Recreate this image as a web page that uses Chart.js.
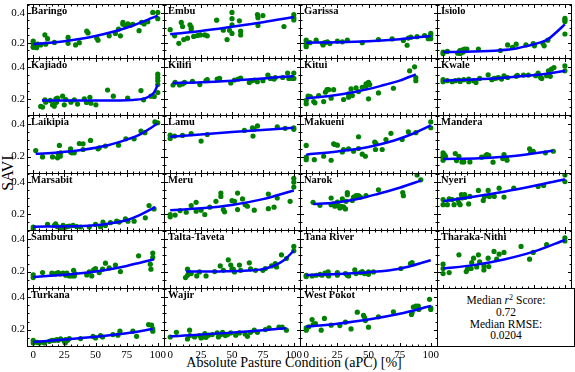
<!DOCTYPE html>
<html>
<head>
<meta charset="utf-8">
<script src="https://cdn.jsdelivr.net/npm/chart.js@4.4.0/dist/chart.umd.min.js"></script>
<style>
html, body { margin: 0; padding: 0; background: #fff; }
#fig { position: relative; width: 575px; height: 372px; overflow: hidden; font-family: "Liberation Serif", serif; color: #000; }
#fig canvas { position: absolute; left: 0; top: 0; }
#ylabel { position: absolute; left: 8px; top: 173px; transform: translate(-50%, -50%) rotate(-90deg); font-size: 16px; white-space: nowrap; }
#xlabel { position: absolute; left: 0; width: 588px; top: 354px; line-height: 18px; text-align: center; font-size: 14px; white-space: nowrap; }
#scores { position: absolute; left: 437px; top: 288px; width: 138px; height: 59px; box-sizing: border-box; border: 1px solid #000; padding-top: 6px; text-align: center; font-size: 11.5px; line-height: 11.8px; }
#scores sup { font-size: 70%; line-height: 0; vertical-align: 4px; }
</style>
</head>
<body>
<div id="fig">
  <div id="ylabel">SAVI</div>
  <div id="xlabel">Absolute Pasture Condition (aPC) [%]</div>
  <div id="scores"></div>
</div>
<script>
// axis ticks
const xTicks = [0, 25, 50, 75, 100];
const yTicks = [0.2, 0.4];
const yTickLabels = ['0.2', '0.4'];
const medianR2 = '0.72';
const medianRMSE = '0.0204';

// scatter points [aPC, SAVI] and fitted curve per county
const baringoPoints = [[0,0.21],[0,0.194],[0,0.173],[0,0.169],[2.7,0.167],[3.5,0.19],[6,0.185],[9.4,0.252],[10,0.19],[11.5,0.227],[17,0.202],[28,0.235],[28,0.196],[34,0.185],[37,0.2],[43,0.277],[44,0.265],[51,0.231],[52,0.217],[61,0.246],[66,0.262],[68.5,0.29],[70,0.246],[72,0.335],[72,0.323],[74,0.315],[76,0.325],[78,0.315],[80,0.323],[85,0.28],[87,0.335],[89,0.325],[92,0.34],[96,0.402],[100,0.402],[100,0.36]];
const baringoFit = [[0,0.19],[25,0.21],[50,0.245],[75,0.3],[100,0.38]];

const embuPoints = [[0,0.287],[3.6,0.246],[7,0.196],[9,0.335],[10,0.308],[11,0.221],[14,0.23],[16,0.319],[17,0.304],[17,0.29],[19,0.242],[22,0.248],[24.5,0.252],[28,0.252],[30,0.246],[37.6,0.35],[43,0.283],[46,0.221],[48,0.283],[50,0.402],[50,0.36],[50,0.319],[50,0.262],[56,0.346],[57,0.277],[57,0.252],[70.6,0.388],[71,0.367],[71,0.315],[75,0.381],[92,0.308],[100,0.388],[100,0.367],[100,0.352]];
const embuFit = [[0,0.256],[25,0.278],[50,0.306],[75,0.336],[100,0.371]];

const garissaPoints = [[0,0.217],[0,0.2],[0,0.185],[0,0.173],[3,0.2],[8,0.217],[13,0.196],[13.5,0.185],[15,0.2],[17,0.206],[19,0.194],[25,0.21],[29,0.206],[33,0.217],[45,0.2],[58,0.221],[69,0.225],[78,0.215],[81,0.183],[82,0.231],[84,0.237],[89,0.24],[95,0.248],[98,0.227],[100,0.262],[100,0.248],[100,0.227]];
const garissaFit = [[0,0.2],[25,0.203],[50,0.21],[75,0.223],[100,0.245]];

const isioloPoints = [[0,0.138],[0,0.127],[3.5,0.142],[12,0.13],[13.7,0.148],[14,0.128],[15,0.133],[16,0.152],[16.5,0.138],[17.7,0.158],[19.5,0.158],[29,0.158],[47,0.148],[53,0.185],[57,0.169],[60,0.19],[68,0.185],[74,0.194],[75,0.179],[82,0.194],[83,0.179],[86,0.217],[100,0.362],[100,0.352],[100,0.342],[100,0.258]];
const isioloFit = [[0,0.138],[25,0.141],[47,0.15],[60,0.162],[70,0.18],[80,0.202],[86,0.222],[93,0.27],[100,0.322]];

const kajiadoPoints = [[6,0.152],[7.5,0.148],[9.4,0.194],[10,0.179],[13.7,0.19],[15.5,0.1625],[16.9,0.154],[17.7,0.175],[18.2,0.2],[18.7,0.179],[19.5,0.204],[23.6,0.217],[24.9,0.1625],[26.2,0.196],[30.3,0.179],[33,0.194],[35.6,0.167],[41,0.2],[42.8,0.177],[45.5,0.21],[46.3,0.173],[50.3,0.1625],[59.7,0.256],[64.3,0.217],[75.8,0.204],[86.5,0.252],[88.6,0.194],[94.5,0.217],[97.2,0.215],[100,0.356],[100,0.335],[100,0.315],[100,0.29],[100,0.24]];
const kajiadoFit = [[7,0.19],[40,0.19],[70,0.19],[80,0.193],[88,0.2],[93,0.215],[97,0.24],[100,0.29]];

const kilifiPoints = [[2.3,0.2875],[4,0.304],[7.6,0.2875],[10,0.294],[11.6,0.304],[18,0.31],[24,0.29],[29,0.315],[30,0.321],[38,0.325],[40,0.329],[49,0.3],[52,0.319],[55,0.325],[57,0.331],[64,0.304],[66,0.315],[68,0.319],[70.5,0.308],[75,0.315],[79,0.35],[81,0.329],[84,0.325],[85,0.335],[91,0.335],[95,0.3625],[96,0.329],[98.7,0.329],[100,0.3625],[100,0.329]];
const kilifiFit = [[2,0.3],[25,0.305],[50,0.315],[75,0.328],[100,0.345]];

const kituiPoints = [[0,0.19],[0,0.169],[1.5,0.217],[3.3,0.215],[6,0.183],[7,0.175],[10,0.221],[14,0.183],[15.4,0.242],[16.7,0.258],[18,0.258],[20,0.204],[22,0.258],[30,0.196],[34,0.231],[34,0.21],[36,0.2625],[37,0.221],[40,0.269],[42,0.246],[45,0.273],[48,0.294],[48,0.279],[50,0.304],[50,0.2],[51,0.29],[58,0.2375],[70,0.267],[83,0.377],[87,0.402],[88,0.335],[88,0.315]];
const kituiFit = [[0,0.204],[20,0.22],[40,0.245],[60,0.282],[75,0.315],[88,0.355]];

const kwalePoints = [[0,0.321],[0,0.308],[3.5,0.315],[7.5,0.308],[10,0.315],[13,0.319],[14,0.31],[17,0.321],[21,0.308],[21,0.325],[25,0.315],[27,0.304],[30,0.329],[37,0.352],[40,0.321],[42,0.329],[44,0.331],[45.5,0.335],[48,0.325],[50,0.346],[53,0.335],[60,0.342],[61,0.348],[66,0.35],[70,0.35],[76,0.346],[78,0.3625],[80,0.335],[81,0.329],[85,0.346],[86.5,0.377],[88,0.342],[89,0.3875],[91,0.398],[100,0.408],[100,0.377]];
const kwaleFit = [[0,0.315],[25,0.322],[50,0.333],[75,0.35],[100,0.376]];

const laikipiaPoints = [[2,0.2375],[7.5,0.198],[15.5,0.198],[19.5,0.192],[20,0.219],[21,0.269],[21.7,0.202],[22,0.223],[30,0.248],[30,0.229],[31,0.223],[33,0.223],[37,0.281],[40,0.279],[40,0.244],[46,0.3],[52,0.248],[53,0.254],[58,0.265],[68.5,0.271],[74.4,0.31],[81,0.31],[86.5,0.358],[89.7,0.348],[97.7,0.415],[100,0.41]];
const laikipiaFit = [[2,0.217],[20,0.225],[40,0.242],[60,0.27],[75,0.305],[85,0.335],[100,0.405]];

const lamuPoints = [[0,0.333],[0,0.3125],[3.6,0.327],[10,0.331],[17,0.342],[25,0.296],[30,0.337],[60,0.3625],[66.6,0.379],[67,0.327],[68,0.369],[70.6,0.39],[86.6,0.385],[93,0.375],[100,0.379],[100,0.369]];
const lamuFit = [[0,0.323],[50,0.352],[100,0.379]];

const makueniPoints = [[0,0.269],[0,0.196],[0,0.181],[6.5,0.181],[14,0.202],[20,0.177],[22,0.279],[23,0.275],[25,0.271],[29,0.229],[30,0.244],[34,0.248],[38,0.233],[42,0.323],[42,0.25],[45,0.215],[47.5,0.202],[55,0.29],[55.6,0.244],[56,0.281],[61,0.244],[64,0.306],[68,0.344],[77,0.306],[82,0.354],[88,0.348],[100,0.415],[100,0.379]];
const makueniFit = [[0,0.212],[25,0.232],[50,0.26],[70,0.298],[85,0.34],[100,0.394]];

const manderaPoints = [[0,0.223],[0,0.206],[0,0.192],[0,0.177],[1,0.212],[2,0.202],[10,0.219],[11,0.175],[13,0.202],[15.5,0.167],[17,0.167],[22,0.167],[31.6,0.196],[35,0.206],[36,0.212],[37.5,0.208],[41,0.165],[49,0.1875],[50,0.212],[52,0.1875],[52.5,0.177],[71,0.248],[72,0.227],[74,0.233],[84,0.223],[90.5,0.233]];
const manderaFit = [[0,0.185],[30,0.19],[60,0.205],[90,0.236]];

const marsabitPoints = [[0,0.117],[0,0.102],[11.5,0.133],[17,0.127],[18,0.1375],[19.5,0.119],[22,0.1125],[24,0.127],[25,0.1125],[27,0.119],[29,0.123],[32,0.127],[35,0.119],[38,0.117],[45,0.117],[50,0.133],[54,0.119],[56,0.148],[58,0.127],[62,0.144],[67,0.154],[69,0.148],[74,0.169],[76,0.154],[81,0.154],[90,0.175],[93,0.252],[97,0.231]];
const marsabitFit = [[0,0.119],[40,0.123],[60,0.138],[75,0.16],[85,0.19],[98,0.243]];

const meruPoints = [[0,0.196],[0,0.181],[4,0.192],[8,0.221],[13,0.21],[17,0.252],[21,0.273],[21,0.217],[25,0.223],[28,0.196],[32,0.242],[37,0.279],[41,0.331],[41,0.31],[43,0.227],[44,0.2125],[50,0.283],[52,0.279],[54.5,0.331],[54.5,0.227],[58.5,0.294],[60.6,0.258],[62.5,0.248],[68,0.223],[79.4,0.325],[79.4,0.233],[84,0.242],[86.6,0.3],[97,0.279],[100,0.425],[100,0.4],[100,0.369]];
const meruFit = [[0,0.223],[25,0.235],[50,0.256],[75,0.293],[100,0.347]];

const narokPoints = [[5.5,0.273],[11,0.254],[20,0.3],[20,0.258],[22,0.2625],[23,0.248],[25,0.275],[25.6,0.254],[27,0.2375],[28,0.248],[29,0.294],[30,0.244],[31.5,0.231],[32,0.279],[33,0.335],[33,0.321],[37,0.285],[38,0.306],[40,0.315],[42,0.315],[43.5,0.306],[48,0.315],[58,0.352],[77.5,0.335],[78,0.315],[89,0.446],[92,0.415]];
const narokFit = [[5.5,0.262],[20,0.268],[31,0.279],[45,0.3],[58,0.327],[75,0.365],[92,0.41]];

const nyeriPoints = [[0,0.29],[0,0.258],[3.5,0.258],[5,0.294],[7.5,0.29],[9,0.258],[12,0.29],[13,0.269],[14,0.258],[15,0.321],[15.5,0.3],[17.7,0.321],[18,0.304],[21,0.2625],[22,0.31],[29,0.348],[33,0.285],[34,0.31],[37,0.348],[38,0.31],[42,0.31],[46,0.362],[50,0.306],[58,0.362],[78,0.373],[82.5,0.379],[100,0.446],[100,0.404]];
const nyeriFit = [[0,0.279],[25,0.308],[50,0.34],[75,0.377],[100,0.418]];

const samburuPoints = [[0,0.179],[0,0.1625],[7.5,0.194],[15,0.19],[18,0.1875],[20,0.194],[22,0.1854],[24,0.19],[26,0.177],[27,0.19],[29,0.173],[31,0.173],[32.4,0.208],[33,0.173],[33.5,0.1875],[43,0.179],[45,0.198],[47,0.173],[48.5,0.21],[50,0.219],[53,0.194],[55.7,0.215],[58,0.252],[61,0.223],[66,0.24],[70,0.2],[84.6,0.298],[94,0.246],[94.5,0.215],[96,0.315],[96,0.2875]];
const samburuFit = [[0,0.167],[25,0.18],[50,0.2],[75,0.235],[97,0.276]];

const taltaPoints = [[12.4,0.1625],[14,0.177],[14,0.215],[15,0.198],[17,0.1875],[21.5,0.173],[23.7,0.198],[29,0.173],[36,0.2],[40.5,0.235],[43,0.208],[47,0.273],[49,0.24],[50,0.215],[51,0.215],[52,0.198],[56,0.24],[57,0.208],[64,0.254],[65,0.217],[69,0.208],[75,0.208],[77,0.219],[82,0.235],[85,0.25],[86,0.229],[90,0.304],[94,0.281],[100,0.356],[100,0.329]];
const taltaFit = [[13,0.2],[40,0.201],[60,0.205],[75,0.215],[85,0.24],[92,0.27],[100,0.33]];

const tanaPoints = [[0,0.177],[0,0.169],[4.7,0.173],[8,0.177],[11,0.183],[12.7,0.177],[15,0.19],[17,0.183],[17.6,0.198],[18,0.173],[25,0.194],[25,0.177],[31.5,0.1875],[33,0.177],[34,0.173],[39,0.21],[40,0.1875],[43.5,0.194],[45,0.2],[46.7,0.1875],[50,0.198],[50,0.183],[54,0.198],[76,0.219],[83.7,0.25],[85,0.256]];
const tanaFit = [[0,0.179],[25,0.185],[50,0.196],[75,0.218],[100,0.27]];

const tharakaPoints = [[0,0.246],[0,0.219],[0,0.1875],[5,0.194],[13,0.304],[19,0.2],[20,0.215],[23,0.219],[23.5,0.256],[25,0.283],[27.6,0.229],[29,0.304],[30,0.26],[33.5,0.235],[33.5,0.21],[37,0.283],[37.5,0.231],[41.8,0.325],[44,0.277],[46,0.308],[50,0.319],[64,0.356],[71,0.277],[74,0.319],[85,0.367],[100,0.41],[100,0.39]];
const tharakaFit = [[0,0.219],[25,0.24],[50,0.275],[75,0.325],[100,0.396]];

const turkanaPoints = [[0,0.133],[0,0.117],[3,0.121],[5,0.117],[9,0.117],[13,0.127],[15,0.133],[17,0.133],[19,0.1375],[20,0.133],[22,0.142],[25,0.127],[25.7,0.117],[26,0.1375],[27.6,0.133],[29,0.144],[38,0.144],[48,0.158],[50,0.148],[54,0.1625],[55.7,0.154],[64,0.169],[68,0.165],[69.6,0.19],[80,0.19],[83,0.158],[92.6,0.231],[95,0.227],[96,0.19],[96,0.204]];
const turkanaFit = [[0,0.123],[25,0.138],[50,0.155],[75,0.177],[96,0.204]];

const wajirPoints = [[0,0.154],[5,0.183],[14,0.142],[15.7,0.196],[16,0.1625],[19.7,0.154],[23.7,0.1625],[25,0.148],[27,0.154],[28,0.175],[29,0.152],[31,0.165],[34,0.169],[38,0.179],[39,0.154],[41,0.169],[42.4,0.183],[44.6,0.1625],[46.4,0.169],[49,0.179],[53,0.165],[56,0.179],[60.6,0.173],[62.5,0.158],[65,0.183],[68,0.196],[70.6,0.183],[77,0.2],[80,0.21],[88,0.215],[90.6,0.215],[94,0.196]];
const wajirFit = [[0,0.158],[50,0.181],[94,0.208]];

const westPokotPoints = [[0,0.21],[0,0.196],[2,0.217],[4.7,0.2625],[5.5,0.231],[7.4,0.2375],[12,0.196],[14.6,0.269],[20,0.227],[27,0.225],[31.5,0.246],[36,0.204],[41,0.308],[46,0.2875],[47,0.273],[47.5,0.256],[50,0.215],[58,0.279],[70,0.31],[84.5,0.294],[85,0.304],[86,0.34],[88,0.346],[90,0.346],[90.4,0.325],[99,0.3875],[100,0.335],[100,0.325]];
const westPokotFit = [[0,0.217],[25,0.236],[50,0.262],[75,0.298],[100,0.346]];

const panels = [
  ['Baringo', baringoPoints, baringoFit],
  ['Embu', embuPoints, embuFit],
  ['Garissa', garissaPoints, garissaFit],
  ['Isiolo', isioloPoints, isioloFit],
  ['Kajiado', kajiadoPoints, kajiadoFit],
  ['Kilifi', kilifiPoints, kilifiFit],
  ['Kitui', kituiPoints, kituiFit],
  ['Kwale', kwalePoints, kwaleFit],
  ['Laikipia', laikipiaPoints, laikipiaFit],
  ['Lamu', lamuPoints, lamuFit],
  ['Makueni', makueniPoints, makueniFit],
  ['Mandera', manderaPoints, manderaFit],
  ['Marsabit', marsabitPoints, marsabitFit],
  ['Meru', meruPoints, meruFit],
  ['Narok', narokPoints, narokFit],
  ['Nyeri', nyeriPoints, nyeriFit],
  ['Samburu', samburuPoints, samburuFit],
  ['Talta-Taveta', taltaPoints, taltaFit],
  ['Tana River', tanaPoints, tanaFit],
  ['Tharaka-Nithi', tharakaPoints, tharakaFit],
  ['Turkana', turkanaPoints, turkanaFit],
  ['Wajir', wajirPoints, wajirFit],
  ['West Pokot', westPokotPoints, westPokotFit]
];

// grid of subplots (pixel edges of the plot areas)
const colEdges = [27, 164, 300, 437, 574];
const rowEdges = [1, 58, 115, 173, 230, 288, 346];
const W = 575, H = 372;
const xMin = -5, xMax = 105, yMin = 0.098, yMax = 0.458;
const serif = '"Liberation Serif", serif';

document.getElementById('scores').innerHTML =
  'Median <i>r</i><sup>2</sup> Score:<br>' + medianR2 + '<br>Median RMSE:<br>' + medianRMSE;

// frame, inward ticks on all four sides, panel title
const panelDecor = {
  id: 'panelDecor',
  afterDraw(chart, args, opts) {
    const { ctx, chartArea: a, scales: { x, y } } = chart;
    const l = Math.round(a.left) + 0.5, r = Math.round(a.right) + 0.5;
    const t = Math.round(a.top) + 0.5, b = Math.round(a.bottom) + 0.5;
    ctx.save();
    ctx.strokeStyle = '#000';
    ctx.lineWidth = 1;
    ctx.beginPath();
    for (let v = -5; v <= 105; v += 5) {
      const px = Math.round(x.getPixelForValue(v)) + 0.5;
      const len = v % 25 === 0 ? 3.5 : 2;
      ctx.moveTo(px, b); ctx.lineTo(px, b - len);
      ctx.moveTo(px, t); ctx.lineTo(px, t + len);
    }
    for (let k = 2; k <= 9; k++) {
      const v = k * 0.05;
      const py = Math.round(y.getPixelForValue(v)) + 0.5;
      const len = k % 4 === 0 ? 3.5 : 2;
      ctx.moveTo(l, py); ctx.lineTo(l + len, py);
      ctx.moveTo(r, py); ctx.lineTo(r - len, py);
    }
    ctx.stroke();
    ctx.strokeRect(l, t, r - l, b - t);
    ctx.fillStyle = '#000';
    ctx.font = 'bold 10.5px ' + serif;
    ctx.textBaseline = 'alphabetic';
    ctx.fillText(opts.title, a.left + 4, a.top + 9.5);
    ctx.restore();
  }
};

const fig = document.getElementById('fig');

panels.forEach(([name, pts, fit], i) => {
  const row = Math.floor(i / 4), col = i % 4;
  const showY = col === 0;
  const showX = row === 5;
  const cv = document.createElement('canvas');
  cv.width = W; cv.height = H;
  fig.appendChild(cv);

  new Chart(cv, {
    type: 'scatter',
    data: {
      datasets: [
        {
          type: 'line',
          data: fit.map(([x, y]) => ({ x, y })),
          borderColor: '#0000ff',
          borderWidth: 2.5,
          pointRadius: 0,
          cubicInterpolationMode: 'monotone',
          fill: false,
          order: 0
        },
        {
          data: pts.map(([x, y]) => ({ x, y })),
          backgroundColor: '#008000',
          pointRadius: 2.6,
          pointBorderWidth: 0,
          order: 1
        }
      ]
    },
    options: {
      responsive: false,
      animation: false,
      events: [],
      layout: {
        padding: {
          left: showY ? 0 : colEdges[col],
          right: W - colEdges[col + 1],
          top: rowEdges[row],
          bottom: H - rowEdges[row + 1] - (showX ? 16 : 0)
        }
      },
      plugins: {
        legend: { display: false },
        tooltip: { enabled: false },
        panelDecor: { title: name }
      },
      scales: {
        x: {
          type: 'linear',
          min: xMin, max: xMax,
          display: showX,
          grid: { display: false, drawTicks: false },
          border: { display: false },
          afterBuildTicks: s => { s.ticks = xTicks.map(v => ({ value: v })); },
          ticks: { color: '#000', font: { family: serif, size: 11 }, padding: 3, maxRotation: 0, autoSkip: false, callback: v => String(v) },
          afterFit: s => { if (showX) { s.height = 16; s.paddingLeft = 0; s.paddingRight = 0; } }
        },
        y: {
          type: 'linear',
          min: yMin, max: yMax,
          display: showY,
          grid: { display: false, drawTicks: false },
          border: { display: false },
          afterBuildTicks: s => { s.ticks = yTicks.map(v => ({ value: v })); },
          ticks: { color: '#000', font: { family: serif, size: 11 }, padding: 2, autoSkip: false, callback: v => yTickLabels[yTicks.indexOf(v)] },
          afterFit: s => { if (showY) { s.width = 27; s.paddingTop = 0; s.paddingBottom = 0; } }
        }
      }
    },
    plugins: [panelDecor]
  });
});
</script>
</body>
</html>
